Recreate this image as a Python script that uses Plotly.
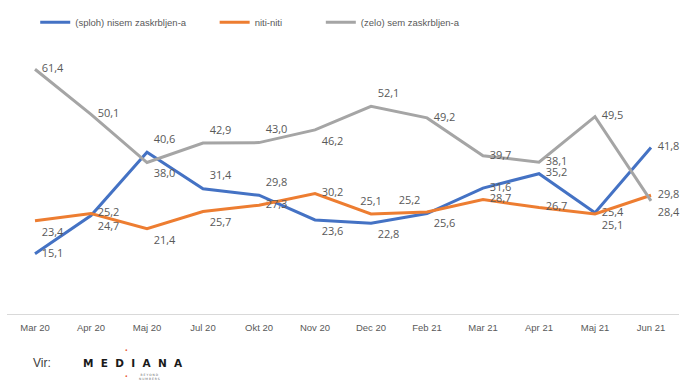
import plotly.graph_objects as go

categories = ["Mar 20", "Apr 20", "Maj 20", "Jul 20", "Okt 20", "Nov 20",
              "Dec 20", "Feb 21", "Mar 21", "Apr 21", "Maj 21", "Jun 21"]
nisem = [15.1, 24.7, 40.6, 31.4, 29.8, 23.6, 22.8, 25.2, 31.6, 35.2, 25.4, 41.8]
niti = [23.4, 25.2, 21.4, 25.7, 27.3, 30.2, 25.1, 25.6, 28.7, 26.7, 25.1, 29.8]
sem = [61.4, 50.1, 38.0, 42.9, 43.0, 46.2, 52.1, 49.2, 39.7, 38.1, 49.5, 28.4]

names = ["(sploh) nisem zaskrbljen-a", "niti-niti", "(zelo) sem zaskrbljen-a"]
colors = ["#4472C4", "#ED7D31", "#A5A5A5"]

pos_nisem = ["middle right", "bottom right", "top right", "top right", "top right",
             "bottom right", "bottom right", "top left", "middle right", "middle right",
             "middle right", "middle right"]
pos_niti = ["bottom right", "middle right", "bottom right", "bottom right", "middle right",
            "middle right", "top center", "bottom right", "middle right", "middle right",
            "bottom right", "middle right"]
pos_sem = ["middle right", "middle right", "bottom right", "top right", "top right",
           "bottom right", "top right", "middle right", "middle right", "middle right",
           "middle right", "bottom right"]

def fmt(v):
    return f"{v:.1f}".replace(".", ",")

fig = go.Figure()
series = [(nisem, pos_nisem), (niti, pos_niti), (sem, pos_sem)]
legends = ["legend", "legend2", "legend3"]
for i, (vals, pos) in enumerate(series):
    fig.add_trace(go.Scatter(
        x=categories, y=vals, mode="lines+markers+text", name=names[i],
        line=dict(color=colors[i], width=3),
        marker=dict(size=9, color="rgba(0,0,0,0)", line=dict(width=0)),
        text=[fmt(v) for v in vals], textposition=pos,
        textfont=dict(family="Open Sans, DejaVu Sans, sans-serif", size=11, color="#595959"),
        legend=legends[i], cliponaxis=False, showlegend=True,
    ))

narrow = "Liberation Sans Narrow, Liberation Sans, sans-serif"
legend_font = dict(family=narrow, size=9.5, color="#595959")
leg_common = dict(orientation="h", yanchor="middle", y=1.046, xanchor="left",
                  font=legend_font, itemwidth=30, bgcolor="rgba(0,0,0,0)")

fig.update_layout(
    width=687, height=384,
    showlegend=True,
    margin=dict(l=7, r=8, t=35, b=70),
    plot_bgcolor="white", paper_bgcolor="white",
    legend=dict(x=0.042, **leg_common),
    legend2=dict(x=0.309, **leg_common),
    legend3=dict(x=0.467, **leg_common),
    xaxis=dict(type="category", range=[-0.5, 11.5], showgrid=False, zeroline=False,
               showline=True, linecolor="#D9D9D9", linewidth=1, ticks="",
               tickfont=dict(family=narrow, size=9.5, color="#595959"),
               ticklabelstandoff=5),
    yaxis=dict(range=[0, 70], visible=False, showgrid=False, zeroline=False),
    annotations=[
        dict(text="Vir:", xref="paper", yref="paper", x=0.052, y=-0.175, xanchor="center",
             yanchor="middle", showarrow=False,
             font=dict(family=narrow, size=12, color="#404040")),
        dict(text="<b>M  E  D  I  A  N  A</b>", xref="paper", yref="paper", x=0.11, y=-0.175,
             xanchor="left", yanchor="middle", showarrow=False,
             font=dict(family="DejaVu Sans, sans-serif", size=10.5, color="#1a1a1a")),
        dict(text="•", xref="paper", yref="paper", x=0.178, y=-0.13, xanchor="center",
             yanchor="middle", showarrow=False, font=dict(size=7, color="#E8562A")),
        dict(text="•", xref="paper", yref="paper", x=0.178, y=-0.225, xanchor="center",
             yanchor="middle", showarrow=False, font=dict(size=7, color="#E8562A")),
        dict(text="B E Y O N D<br>N U M B E R S", xref="paper", yref="paper", x=0.193, y=-0.225,
             xanchor="left", yanchor="middle", showarrow=False,
             font=dict(family="DejaVu Sans, sans-serif", size=3, color="#666666")),
    ],
)

fig.write_html("out.html")
